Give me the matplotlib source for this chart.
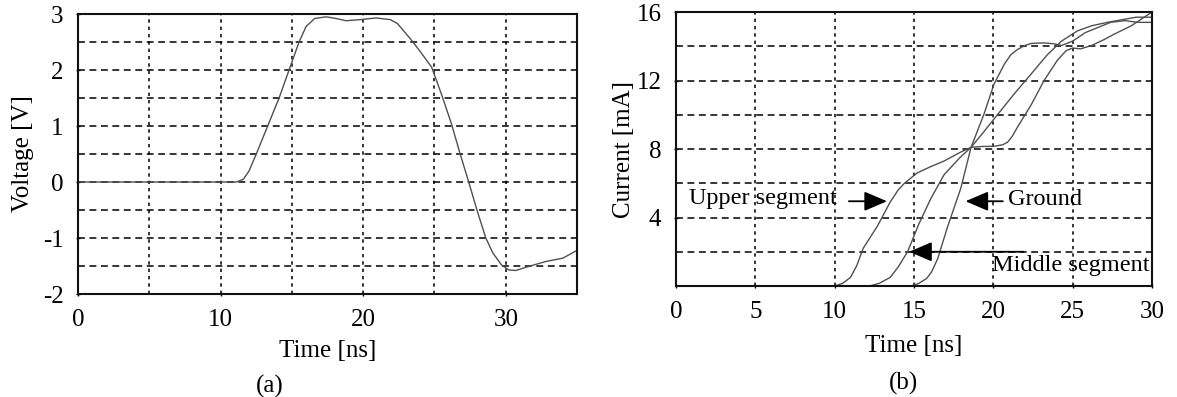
import numpy as np
import matplotlib
matplotlib.use("Agg")
import matplotlib.pyplot as plt
from matplotlib.ticker import MultipleLocator

plt.rcParams["font.family"] = ["Liberation Serif", "DejaVu Serif"]
plt.rcParams["axes.unicode_minus"] = False

# (a) voltage pulse
time_a = [0, 11.1, 11.6, 12.0, 12.5, 13.3, 14.1, 14.8, 15.5, 16.0, 16.6, 17.4,
          18.1, 18.8, 19.8, 20.9, 21.9, 22.4, 23.3, 24.0, 24.8, 25.5, 26.2,
          26.8, 27.4, 28.0, 28.6, 29.1, 29.7, 30.2, 30.7, 31.7, 32.8, 34.0, 35.0]
voltage_a = [0, 0, 0.05, 0.2, 0.5, 1.0, 1.5, 2.0, 2.5, 2.78, 2.92, 2.95,
             2.92, 2.88, 2.9, 2.93, 2.9, 2.83, 2.56, 2.33, 2.05, 1.56, 1.03,
             0.5, 0.0, -0.52, -1.0, -1.27, -1.48, -1.57, -1.58, -1.5, -1.42,
             -1.36, -1.22]

# (b) induced currents
upper_t = [10.0, 10.5, 11.0, 11.4, 11.8, 12.7, 13.5, 14.0, 14.4, 15.2, 16.0,
           16.9, 17.9, 18.6, 19.3, 20.05, 20.6, 20.9, 21.2, 21.5, 22.4, 23.2,
           24.05, 24.6, 25.0, 25.5, 26.2, 27.0, 27.6, 28.7, 30.0]
upper_i = [0.0, 0.15, 0.5, 1.2, 2.2, 3.5, 4.9, 5.6, 6.0, 6.6, 6.95,
           7.3, 7.8, 8.1, 8.15, 8.16, 8.25, 8.4, 8.75, 9.24, 10.6, 12.0,
           13.2, 13.75, 13.9, 13.85, 14.05, 14.4, 14.7, 15.2, 16.0]

middle_t = [12.2, 12.8, 13.5, 14.0, 14.6, 15.3, 16.06, 16.9, 17.9, 18.6, 19.4,
            20.26, 21.3, 22.4, 23.4, 24.3, 25.3, 26.2, 27.2, 28.1, 29.0, 30.0]
middle_i = [0.0, 0.15, 0.5, 1.1, 2.0, 3.6, 5.1, 6.5, 7.5, 8.1, 9.0,
            10.0, 11.2, 12.4, 13.5, 14.3, 14.9, 15.2, 15.4, 15.55, 15.7, 15.7]

ground_t = [14.8, 15.3, 15.8, 16.1, 16.5, 17.1, 17.95, 18.6, 19.4, 20.05,
            20.7, 21.1, 21.5, 22.0, 22.4, 23.2, 23.8, 24.3, 25.0, 25.8, 26.6,
            27.4, 28.3, 29.1, 30.0]
ground_i = [0.0, 0.15, 0.44, 0.8, 1.6, 3.4, 5.7, 8.1, 10.0, 11.8,
            12.96, 13.5, 13.8, 14.05, 14.17, 14.2, 14.15, 14.05, 14.3, 14.8,
            15.1, 15.4, 15.5, 15.4, 15.4]

TICK_FS = 18
LABEL_FS = 18
NOTE_FS = 17.5
CURVE_COLOR = "#505050"


def style_axes(ax):
    for s in ax.spines.values():
        s.set_linewidth(1.5)
        s.set_color("#111111")
    ax.tick_params(which="both", length=3, width=1, direction="inout",
                   labelsize=TICK_FS, pad=9)
    ax.xaxis.grid(True, which="both", color="black", linewidth=1.1,
                  linestyle=(0, (2.2, 2.6)))
    ax.yaxis.grid(True, which="both", color="black", linewidth=1.1,
                  linestyle=(0, (4.5, 3.0)))
    ax.set_axisbelow(True)


fig = plt.figure(figsize=(11.77, 3.97), dpi=100)

# ---- panel (a)
ax1 = fig.add_axes([0.0663, 0.2594, 0.424, 0.7053])
ax1.plot(time_a, voltage_a, color=CURVE_COLOR, lw=1.0)
ax1.set_xlim(0, 35)
ax1.set_ylim(-2, 3)
ax1.xaxis.set_major_locator(MultipleLocator(10))
ax1.xaxis.set_minor_locator(MultipleLocator(5))
ax1.yaxis.set_major_locator(MultipleLocator(1))
ax1.yaxis.set_minor_locator(MultipleLocator(0.5))
style_axes(ax1)
ax1.tick_params(which="minor", length=0)
ax1.set_xlabel("Time [ns]", fontsize=LABEL_FS, labelpad=7)
ax1.set_ylabel("Voltage [V]", fontsize=LABEL_FS, labelpad=6)
fig.text(0.2295, 0.012, "(a)", fontsize=LABEL_FS, ha="center")

# ---- panel (b)
ax2 = fig.add_axes([0.5743, 0.2796, 0.4044, 0.690])
ax2.plot(upper_t, upper_i, color=CURVE_COLOR, lw=1.0)
ax2.plot(middle_t, middle_i, color=CURVE_COLOR, lw=1.0)
ax2.plot(ground_t, ground_i, color=CURVE_COLOR, lw=1.0)
ax2.set_xlim(0, 30)
ax2.set_ylim(0, 16)
ax2.xaxis.set_major_locator(MultipleLocator(5))
ax2.set_yticks([4, 8, 12, 16])
ax2.yaxis.set_minor_locator(MultipleLocator(2))
style_axes(ax2)
ax2.tick_params(axis="y", which="minor", length=0)
ax2.set_xlabel("Time [ns]", fontsize=LABEL_FS, labelpad=9)
ax2.set_ylabel("Current [mA]", fontsize=LABEL_FS, labelpad=1)
fig.text(0.7675, 0.018, "(b)", fontsize=LABEL_FS, ha="center")

arrow = dict(arrowstyle="-|>,head_length=1.4,head_width=0.6",
             color="black", lw=1.3, shrinkA=0, shrinkB=0)
ax2.annotate("", xy=(13.3, 4.95), xytext=(10.9, 4.95), arrowprops=arrow)
ax2.annotate("", xy=(18.25, 4.95), xytext=(20.6, 4.95), arrowprops=arrow)
ax2.annotate("", xy=(14.7, 2.0), xytext=(21.9, 2.0), arrowprops=arrow)
ax2.text(0.8, 5.13, "Upper segment", fontsize=NOTE_FS, va="center")
ax2.text(20.9, 5.03, "Ground", fontsize=NOTE_FS, va="center")
ax2.text(19.9, 1.22, "Middle segment", fontsize=NOTE_FS, va="center")

fig.savefig("out.png", dpi=100)
